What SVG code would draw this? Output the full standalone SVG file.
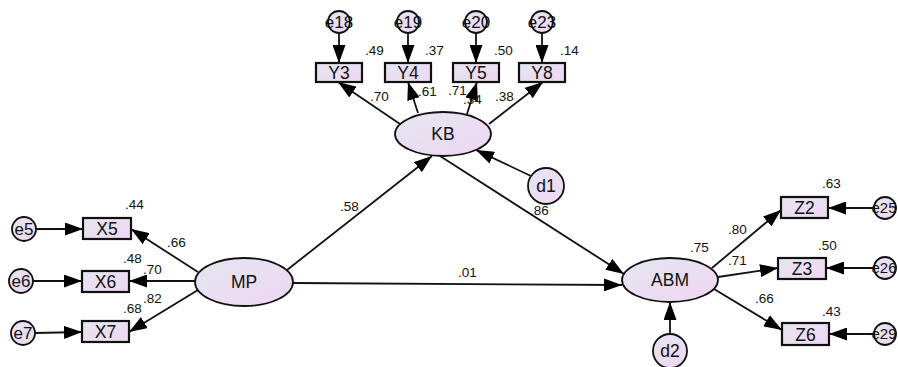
<svg xmlns="http://www.w3.org/2000/svg" width="898" height="367" viewBox="0 0 898 367">
<defs>
<linearGradient id="g" x1="0" y1="0" x2="1" y2="1">
<stop offset="0" stop-color="#e4e6f0"/>
<stop offset="1" stop-color="#efd6f2"/>
</linearGradient>
<marker id="ah" markerUnits="userSpaceOnUse" markerWidth="18" markerHeight="13" refX="18" refY="6.5" orient="auto">
<path d="M0,0 L18,6.5 L0,13 z" fill="#000"/>
</marker>
<style>
.sh{fill:url(#g);stroke:#111;stroke-width:1.8}
.bx{fill:url(#g);stroke:#111;stroke-width:2.2}
.nm{font-family:"Liberation Sans",Arial,sans-serif;font-size:17.5px;fill:#111;text-anchor:middle}
.en{font-family:"Liberation Sans",Arial,sans-serif;font-size:17px;fill:#111;text-anchor:middle}
.er{font-family:"Liberation Sans",Arial,sans-serif;font-size:15px;fill:#111;text-anchor:middle}
.lb{font-family:"Liberation Sans",Arial,sans-serif;font-size:13.5px;fill:#111}
.c line{stroke:#111;stroke-width:1.8;marker-end:url(#ah)}
</style>
</defs>
<rect width="898" height="367" fill="#fff"/>
<g id="labels-under">
<text class="lb" x="463" y="104">.34</text>
</g>
<g class="c" id="connectors">
<line x1="339" y1="33" x2="339" y2="63"/>
<line x1="408" y1="33" x2="408" y2="63"/>
<line x1="476" y1="33" x2="476" y2="63"/>
<line x1="542" y1="33" x2="542" y2="63"/>
<line x1="400" y1="124" x2="338" y2="82"/>
<line x1="418" y1="113" x2="408" y2="82"/>
<line x1="467" y1="114" x2="477" y2="82"/>
<line x1="489" y1="124" x2="543" y2="82"/>
<line x1="287" y1="270" x2="432" y2="156"/>
<line x1="440" y1="156" x2="624" y2="274"/>
<line x1="293" y1="283" x2="622" y2="285"/>
<line x1="531" y1="176" x2="476" y2="150"/>
<line x1="670" y1="334" x2="670" y2="302"/>
<line x1="198" y1="272" x2="131" y2="229"/>
<line x1="195" y1="281" x2="129" y2="281"/>
<line x1="198" y1="290" x2="129" y2="332"/>
<line x1="36" y1="229" x2="83" y2="229"/>
<line x1="33" y1="281" x2="82" y2="281"/>
<line x1="35" y1="333" x2="82" y2="332"/>
<line x1="712" y1="268" x2="781" y2="210"/>
<line x1="718" y1="277" x2="778" y2="268"/>
<line x1="714" y1="289" x2="782" y2="330"/>
<line x1="874" y1="208" x2="828" y2="208"/>
<line x1="874" y1="268" x2="826" y2="268"/>
<line x1="874" y1="334" x2="829" y2="334"/>
</g>
<g id="KB"><ellipse class="sh" cx="443" cy="134" rx="48" ry="22"/><text class="nm" x="443" y="140">KB</text></g>
<g id="MP"><ellipse class="sh" cx="244" cy="282" rx="49" ry="24"/><text class="nm" x="244" y="288">MP</text></g>
<g id="ABM"><ellipse class="sh" cx="670" cy="280" rx="48" ry="22"/><text class="nm" x="670" y="286">ABM</text></g>
<g id="d1"><circle class="sh" cx="546" cy="186" r="18"/><text class="nm" x="546" y="192">d1</text></g>
<g id="d2"><circle class="sh" cx="670" cy="351" r="17"/><text class="nm" x="670" y="357">d2</text></g>
<g id="Y3"><rect class="bx" x="316" y="63" width="46" height="19"/><text class="nm" x="339" y="79">Y3</text></g>
<g id="Y4"><rect class="bx" x="385" y="63" width="46" height="19"/><text class="nm" x="408" y="79">Y4</text></g>
<g id="Y5"><rect class="bx" x="453" y="63" width="46" height="19"/><text class="nm" x="476" y="79">Y5</text></g>
<g id="Y8"><rect class="bx" x="519" y="63" width="46" height="19"/><text class="nm" x="542" y="79">Y8</text></g>
<g id="e18"><circle class="sh" cx="339" cy="22" r="11"/><text class="en" x="339" y="28">e18</text></g>
<g id="e19"><circle class="sh" cx="408" cy="22" r="11"/><text class="en" x="408" y="28">e19</text></g>
<g id="e20"><circle class="sh" cx="476" cy="22" r="11"/><text class="en" x="476" y="28">e20</text></g>
<g id="e23"><circle class="sh" cx="542" cy="22" r="11"/><text class="en" x="542" y="28">e23</text></g>
<g id="X5"><rect class="bx" x="83" y="218" width="48" height="21"/><text class="nm" x="107" y="235">X5</text></g>
<g id="X6"><rect class="bx" x="82" y="271" width="47" height="21"/><text class="nm" x="105.5" y="288">X6</text></g>
<g id="X7"><rect class="bx" x="82" y="321" width="47" height="21"/><text class="nm" x="105.5" y="338">X7</text></g>
<g id="e5"><circle class="sh" cx="24" cy="229" r="12"/><text class="en" x="24" y="235">e5</text></g>
<g id="e6"><circle class="sh" cx="21" cy="281" r="12"/><text class="en" x="21" y="287">e6</text></g>
<g id="e7"><circle class="sh" cx="23" cy="333" r="12"/><text class="en" x="23" y="339">e7</text></g>
<g id="Z2"><rect class="bx" x="781" y="197" width="47" height="21"/><text class="nm" x="804.5" y="214">Z2</text></g>
<g id="Z3"><rect class="bx" x="778" y="258" width="48" height="21"/><text class="nm" x="802" y="275">Z3</text></g>
<g id="Z6"><rect class="bx" x="782" y="323" width="47" height="22"/><text class="nm" x="805.5" y="341">Z6</text></g>
<g id="e25"><circle class="sh" cx="885" cy="208" r="11"/><text class="er" x="884" y="213">e25</text></g>
<g id="e26"><circle class="sh" cx="885" cy="268" r="11"/><text class="er" x="884" y="273">e26</text></g>
<g id="e29"><circle class="sh" cx="885" cy="334" r="11"/><text class="er" x="884" y="339">e29</text></g>
<g id="labels">
<text class="lb" x="365" y="55">.49</text>
<text class="lb" x="425" y="55">.37</text>
<text class="lb" x="494" y="55">.50</text>
<text class="lb" x="560" y="55">.14</text>
<text class="lb" x="370" y="101">.70</text>
<text class="lb" x="418" y="96">.61</text>
<text class="lb" x="448" y="95">.71</text>
<text class="lb" x="495" y="101">.38</text>
<text class="lb" x="340" y="211">.58</text>
<text class="lb" x="530" y="215">.86</text>
<text class="lb" x="458" y="277">.01</text>
<text class="lb" x="125" y="209">.44</text>
<text class="lb" x="167" y="247">.66</text>
<text class="lb" x="123" y="263">.48</text>
<text class="lb" x="143" y="274">.70</text>
<text class="lb" x="143" y="303">.82</text>
<text class="lb" x="123" y="313">.68</text>
<text class="lb" x="822" y="188">.63</text>
<text class="lb" x="818" y="250">.50</text>
<text class="lb" x="822" y="316">.43</text>
<text class="lb" x="728" y="234">.80</text>
<text class="lb" x="728" y="265">.71</text>
<text class="lb" x="755" y="303">.66</text>
<text class="lb" x="690" y="252">.75</text>
</g>
</svg>
